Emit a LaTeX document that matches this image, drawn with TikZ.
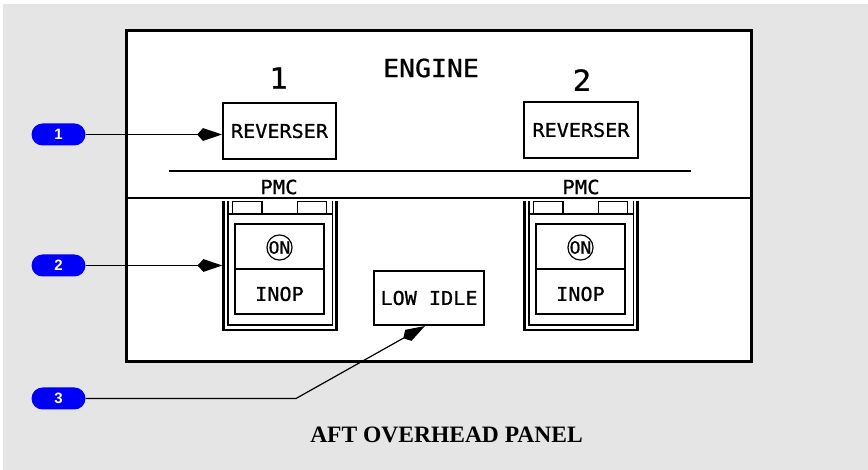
\documentclass[tikz,border=0pt]{standalone}
\usepackage{fontspec}
\usetikzlibrary{arrows.meta}
\newfontfamily\panelmono[FakeStretch=1.06,FakeBold=0.8]{DejaVu Sans Mono}
\newfontfamily\badgefont{Liberation Sans}
\newfontfamily\captionfont{Liberation Serif}
\definecolor{bggray}{RGB}{229,229,229}
\definecolor{badgeblue}{RGB}{0,0,250}
\tikzset{
  panelline/.style={line width=2pt},
  labelbox/.style={draw, line width=1.8pt, fill=white, inner sep=0pt},
  paneltext/.style={font=\panelmono\fontsize{19}{20}\selectfont, inner sep=0pt},
  badge/.style={fill=badgeblue, text=white, rounded corners=11pt, minimum width=54pt,
    minimum height=22pt, inner sep=0pt, font=\badgefont\bfseries\fontsize{15}{16}\selectfont},
  tip/.style={-{Stealth[length=19pt,width=12pt,inset=-6pt]}},
  arr/.style={line width=1.4pt, tip},
  pics/pmcswitch/.style={code={
    \draw[line width=2.6pt] (223.5,201.5) -- (223.5,330) -- (336.5,330) -- (336.5,201.5);
    \draw[line width=1.8pt] (228,201.5) -- (228,325) -- (332.5,325) -- (332.5,201.5);
    \draw[line width=1.8pt] (228,214) -- (332.5,214);
    \draw[line width=1.8pt] (232.5,201.5) rectangle (262,214);
    \draw[line width=1.8pt] (297.5,201.5) rectangle (326.5,214);
    \node[draw, line width=1.8pt, minimum width=89pt, minimum height=90pt, inner sep=0pt] (box) at (279.5,269) {};
    \draw[line width=1.8pt] (box.west) -- (box.east);
    \node[draw, circle, line width=1.2pt, minimum size=22pt, inner sep=0pt,
      font=\panelmono\fontsize{17}{17}\selectfont] (on) at (279.5,247.5) {ON};
    \node[paneltext] (inop) at (279.5,294) {INOP};
  }}
}
\begin{document}
\begin{tikzpicture}[x=1pt,y=-1pt]
\useasboundingbox (0,0) rectangle (868,470);
\fill[bggray] (3,4) rectangle (868,470);
% panel
\node[draw, line width=3pt, fill=white, minimum width=625pt, minimum height=331pt, inner sep=0pt] (panel) at (438.5,196.5) {};
\draw[panelline] (panel.west |- 0,198) coordinate (dl) -- (panel.east |- 0,198) coordinate (dr);
\coordinate (hl) at (169,171);
\coordinate (hr) at (691,171);
\draw[panelline] (hl) -- (hr);
\node[font=\panelmono\fontsize{25}{26}\selectfont, inner sep=0pt] (engine) at (431,68) {ENGINE};
\node[font=\panelmono\fontsize{29}{30}\selectfont, inner sep=0pt] (n1) at (278.5,78) {1};
\node[font=\panelmono\fontsize{29}{30}\selectfont, inner sep=0pt] (n2) at (582,80) {2};
\node[labelbox, minimum width=113pt, minimum height=56pt] (rev1) at (279.5,131) {};
\node[paneltext] at (rev1) (rev1t) {REVERSER};
\node[labelbox, minimum width=114pt, minimum height=56pt] (rev2) at (581,130) {};
\node[paneltext] at (rev2) (rev2t) {REVERSER};
\node[font=\panelmono\fontsize{19.5}{20}\selectfont, inner sep=0pt] (pmc1) at (279,187) {PMC};
\node[font=\panelmono\fontsize{19.5}{20}\selectfont, inner sep=0pt] (pmc2) at (581,187) {PMC};
\pic (swA) at (0,0) {pmcswitch};
\pic (swB) at (301,0) {pmcswitch};
\node[labelbox, minimum width=110pt, minimum height=54pt] (lowidle) at (429,298) {};
\node[paneltext] at (lowidle) (lowidlet) {LOW IDLE};
% caption
\node[font=\captionfont\bfseries\fontsize{23.5}{25}\selectfont, inner sep=0pt] (caption) at (446.5,435) {AFT OVERHEAD PANEL};
% badges and connectors
\node[badge] (b1) at (58.5,134.5) {1};
\node[badge] (b2) at (58.5,265.5) {2};
\node[badge] (b3) at (58.5,398.5) {3};
\coordinate (swAw) at (222.5,265.5);
\coordinate (e3) at (296,398.5);
\coordinate (t3) at (425,326);
\draw[arr] (b1.east) -- (b1.east -| rev1.west);
\draw[arr] (b2.east) -- (swAw);
\draw[line width=1.2pt, tip] (b3.east) -- (e3) -- (t3);
\end{tikzpicture}
\end{document}
